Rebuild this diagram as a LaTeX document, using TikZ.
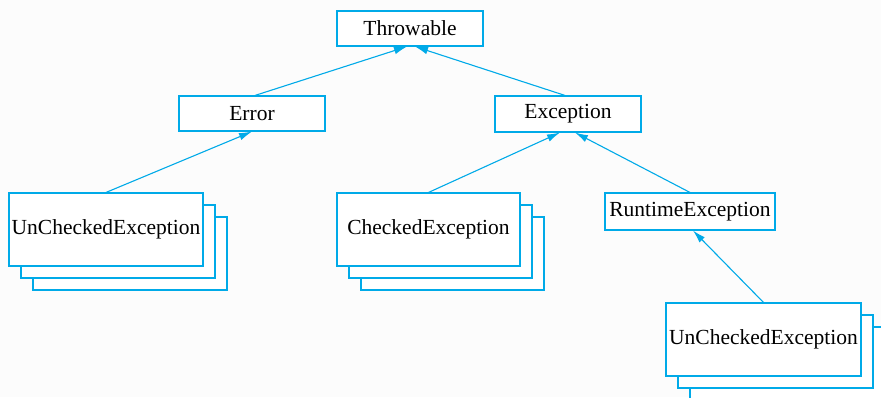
\documentclass[tikz,border=0pt]{standalone}
\usepackage{fontspec}
\setmainfont{Liberation Serif}
\usetikzlibrary{arrows.meta, shadows}
\definecolor{javablue}{RGB}{0,170,232}

\begin{document}
\begin{tikzpicture}[x=1pt, y=1pt, >={Latex[length=13pt,width=7.5pt]},
  box/.style={draw=javablue, line width=1.1pt, fill=white, minimum width=146pt, minimum height=35pt, inner sep=0pt, align=center, font=\fontsize{21.5}{25}\selectfont},
  stack/.style={box, minimum height=73pt,
    general shadow={shadow xshift=24pt, shadow yshift=-24pt, draw=javablue, fill=white, line width=1.1pt},
    general shadow={shadow xshift=12pt, shadow yshift=-12pt, draw=javablue, fill=white, line width=1.1pt}},
  link/.style={->, draw=javablue, line width=1.1pt}]

  \fill[white!99!black] (0,0) rectangle (881,397);
  \useasboundingbox (0,0) rectangle (881,397);

  % class hierarchy
  \node[box] (throw) at (410,368.5) {Throwable};
  \node[box] (err) at (252,283.5) {Error};
  \node[box, minimum height=36pt] (exc) at (568,283) {Exception};
  \node[box, minimum width=170pt, minimum height=37pt] (rte) at (690,185.5) {RuntimeException};

  \node[stack, minimum width=194pt] (unchErr) at (106,167.5) {UnCheckedException};
  \node[stack, minimum width=183pt] (checked) at (428.5,167.5) {CheckedException};
  \node[stack, minimum width=195pt] (unchRte) at (763.5,57.5) {UnCheckedException};

  \draw[link] ([xshift=3pt]err.north) -- ([xshift=-3pt]throw.south);
  \draw[link] ([xshift=-3pt]exc.north) -- ([xshift=5pt]throw.south);
  \draw[link] (unchErr.north) -- (err.south);
  \draw[link] (checked.north) -- ([xshift=-8pt]exc.south);
  \draw[link] (rte.north) -- ([xshift=7pt]exc.south);
  \draw[link] (unchRte.north) -- ([xshift=3pt]rte.south);
\end{tikzpicture}
\end{document}
